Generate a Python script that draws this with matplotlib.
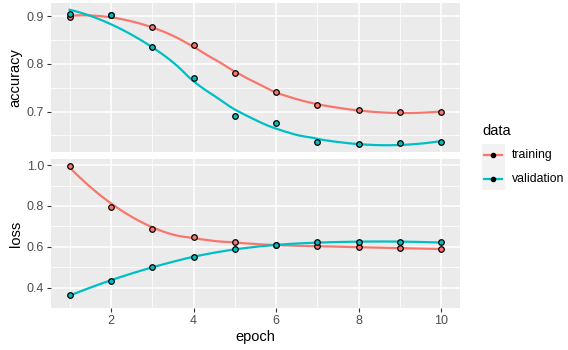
import numpy as np
import matplotlib
matplotlib.use("Agg")
import matplotlib.pyplot as plt
from matplotlib.patches import Rectangle
from matplotlib.lines import Line2D

plt.rcParams['font.family'] = ['Liberation Sans', 'DejaVu Sans']

# данные истории обучения
epoch = [1, 2, 3, 4, 5, 6, 7, 8, 9, 10]
acc_train = [0.898, 0.902, 0.878, 0.839, 0.780, 0.741, 0.714, 0.704, 0.699, 0.699]
acc_val = [0.904, 0.902, 0.836, 0.771, 0.691, 0.676, 0.636, 0.632, 0.635, 0.636]
loss_train = [0.998, 0.795, 0.687, 0.646, 0.621, 0.608, 0.603, 0.599, 0.593, 0.589]
loss_val = [0.362, 0.433, 0.499, 0.551, 0.588, 0.608, 0.621, 0.624, 0.624, 0.621]

series_names = ["training", "validation"]
colors = ["#F8766D", "#00BFC4"]


# локальная квадратичная регрессия (как loess в R, span = 0.75)
def loess(x, y, xs, span=0.75):
    x = np.asarray(x, float)
    y = np.asarray(y, float)
    q = int(np.floor(len(x) * span))
    out = []
    for x0 in xs:
        d = np.abs(x - x0)
        h = np.sort(d)[q - 1]
        u = np.clip(d / h, 0, 1)
        w = (1 - u ** 3) ** 3
        X = np.column_stack([np.ones_like(x), x - x0, (x - x0) ** 2])
        W = np.diag(w)
        beta = np.linalg.lstsq(X.T @ W @ X, X.T @ W @ y, rcond=None)[0]
        out.append(beta[0])
    return np.array(out)


fig = plt.figure(figsize=(5.68, 3.5), dpi=100)
ax1 = fig.add_axes([51 / 568, 1 - 152 / 350, 409 / 568, 149 / 350])
ax2 = fig.add_axes([51 / 568, 1 - 308 / 350, 409 / 568, 149 / 350])

xs = np.linspace(1, 10, 80)
panels = [
    (ax1, [acc_train, acc_val], "accuracy", [0.7, 0.8, 0.9], [0.65, 0.75, 0.85]),
    (ax2, [loss_train, loss_val], "loss", [0.4, 0.6, 0.8, 1.0], [0.3, 0.5, 0.7, 0.9]),
]

for ax, data, name, major, minor in panels:
    ax.set_facecolor("#EBEBEB")
    for s in ax.spines.values():
        s.set_visible(False)
    allv = []
    for vals, c in zip(data, colors):
        sm = loess(epoch, vals, xs)
        allv += list(sm) + list(vals)
        ax.plot(xs, sm, color=c, lw=1.6, zorder=3)
        ax.scatter(epoch, vals, s=16, facecolor=c, edgecolor="black",
                   linewidth=0.9, zorder=4)
    lo, hi = min(allv), max(allv)
    pad = (hi - lo) * 0.05
    ax.set_ylim(lo - pad, hi + pad)
    ax.set_xlim(0.55, 10.45)
    ax.set_xticks([2, 4, 6, 8, 10])
    ax.set_xticks([1, 3, 5, 7, 9], minor=True)
    ax.set_yticks(major)
    ax.set_yticks(minor, minor=True)
    ax.yaxis.set_major_formatter(matplotlib.ticker.FormatStrFormatter("%.1f"))
    ax.grid(True, which="major", color="white", lw=1.1, zorder=1)
    ax.grid(True, which="minor", color="white", lw=0.55, zorder=1)
    ax.set_axisbelow(True)
    ax.tick_params(which="major", length=3, width=0.8, color="#333333",
                   labelsize=9, labelcolor="#4D4D4D", pad=2)
    ax.tick_params(which="minor", length=0)
    ax.set_ylabel(name, fontsize=10.5, labelpad=3)

ax1.tick_params(axis="x", which="both", length=0, labelbottom=False)
ax2.set_xlabel("epoch", fontsize=10.5, labelpad=2)

# легенда
fig.text(482 / 568, 1 - 131 / 350, "data", fontsize=10.5, va="center", ha="left")
fig.patches.append(Rectangle((482 / 568, 1 - 190 / 350), 23 / 568, 46 / 350,
                             transform=fig.transFigure, facecolor="#F2F2F2",
                             edgecolor="none"))
for i, (lab, c) in enumerate(zip(series_names, colors)):
    yk = 1 - (155 + 24 * i) / 350
    fig.lines.append(Line2D([484 / 568, 502 / 568], [yk, yk], color=c, lw=1.6,
                            transform=fig.transFigure))
    fig.lines.append(Line2D([493 / 568], [yk], marker="o", markersize=3,
                            color="black", transform=fig.transFigure))
    fig.text(512 / 568, yk, lab, fontsize=8.8, va="center", ha="left")

fig.savefig("out.png", dpi=100)
